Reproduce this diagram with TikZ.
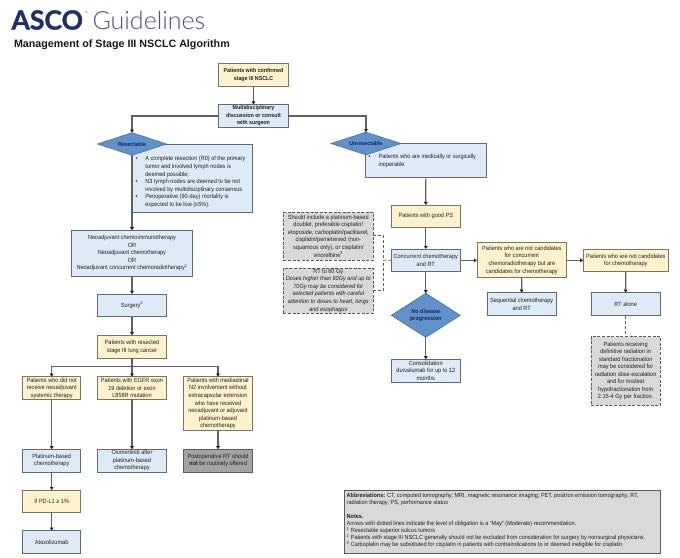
\documentclass[tikz,border=0pt]{standalone}
\usepackage{fontspec}
\setmainfont[FakeStretch=0.92]{Liberation Sans}
\newfontfamily\titlefont{Liberation Sans}
\newfontfamily\logofont[FakeBold=1.2]{Lato}
\newfontfamily\logoreg{Lato}
\newfontfamily\logolight{Lato Light}
\usetikzlibrary{arrows.meta,shapes.geometric}
\definecolor{yfill}{HTML}{FFF2CC}
\definecolor{yline}{HTML}{7A7560}
\definecolor{bfill}{HTML}{DEEAF6}
\definecolor{bline}{HTML}{5E6B78}
\definecolor{dfill}{HTML}{5F92CC}
\definecolor{dline}{HTML}{4A6E9C}
\definecolor{gfill}{HTML}{D9D9D9}
\definecolor{gline}{HTML}{5A5A5A}
\definecolor{dkfill}{HTML}{A3A3A3}
\definecolor{conn}{HTML}{606060}
\definecolor{navy}{HTML}{1E2F6B}
\definecolor{purp}{HTML}{5B4B7C}
\newcommand{\bx}[7]{%
  \pgfmathsetmacro\cxx{(#3+#5)/2}\pgfmathsetmacro\cyy{(#4+#6)/2}%
  \pgfmathsetmacro\ww{#5-#3}\pgfmathsetmacro\hh{#6-#4}%
  \node[#2,minimum width=\ww pt,minimum height=\hh pt] (#1) at (\cxx,\cyy) {#7};}
\newcommand{\bul}{\makebox[9.9pt][l]{•}}
\newcommand{\nob}{\hspace*{9.9pt}}
\tikzset{
  base/.style={draw,line width=0.9pt,inner sep=0pt,outer sep=0pt,align=center,text=black!88,font=\fontsize{6.05}{7.55}\selectfont},
  ybox/.style={base,fill=yfill,draw=yline},
  ybold/.style={ybox,font=\fontsize{5.75}{7.55}\selectfont\bfseries},
  bbox/.style={base,fill=bfill,draw=bline},
  bbold/.style={bbox,font=\fontsize{5.75}{7.55}\selectfont\bfseries},
  gbox/.style={base,fill=gfill,draw=gline,dash pattern=on 3pt off 1.6pt},
  dbox/.style={base,fill=dkfill,draw=gline},
  notebox/.style={base,fill=gfill,draw=gline},
  dia/.style={diamond,aspect=3,draw=dline,line width=0.6pt,fill=dfill,inner sep=0pt,outer sep=0pt,align=center,text=navy!80!black,font=\fontsize{5.75}{7.55}\selectfont\bfseries},
  arr/.style={draw=conn,line width=1.2pt,-{Triangle[length=3.2pt,width=3.8pt,color=black!85]}},
  dshd/.style={draw=conn,line width=0.8pt,dash pattern=on 3pt off 2pt},
  plain/.style={inner sep=0pt,outer sep=0pt,anchor=west,align=left},
  bodytxt/.style={plain,anchor=north west,text=black!88,font=\fontsize{6.05}{7.55}\selectfont},
}
\begin{document}
\begin{tikzpicture}[x=1pt,y=-1pt]
\useasboundingbox (0,0) rectangle (680,557);
\fill[white] (0,0) rectangle (680,557);
% header
\node[plain,text=navy,font=\fontsize{26.5}{28}\logofont\bfseries] (asco) at (11.5,20) {ASCO};
\node[plain,text=purp,font=\fontsize{3}{3}\logoreg] (reg) at (85,12.5) {®};
\node[plain,text=purp,font=\fontsize{25}{28}\logolight] (guide) at (92.5,20.5) {Guidelines};
\node[plain,text=black!90,font=\fontsize{10.7}{12}\titlefont\bfseries] (title) at (14,44.5) {Management of Stage III NSCLC Algorithm};
% left column
\bx{start}{ybold}{218.7}{63.4}{288.3}{86.2}{Patients with confirmed\\stage III NSCLC}
\bx{mdt}{bbold}{218.7}{104.5}{288.3}{127.4}{Multidisciplinary\\discussion or consult\\with surgeon}
\bx{resbox}{bbox}{132.3}{144}{252.7}{212}{}
\node[bodytxt] (restxt) at (135.5,156.6) {\bul A complete resection (R0) of the primary\\\nob tumor and involved lymph nodes is\\\nob deemed possible;\\\bul N3 lymph nodes are deemed to be not\\\nob involved by multidisciplinary consensus\\\bul Perioperative (90-day) mortality is\\\nob expected to be low (≤5\%).};
\node[dia,minimum width=69pt,minimum height=22.6pt] (res) at (132,144) {Resectable};
\bx{neo}{bbox}{71.7}{230.3}{192.3}{276}{Neoadjuvant chemoimmunotherapy\\OR\\Neoadjuvant chemotherapy\\OR\\Neoadjuvant concurrent chemoradiotherapy\textsuperscript{1}}
\bx{surg}{bbox}{97.3}{294}{166.7}{316.7}{Surgery\textsuperscript{2}}
\bx{resected}{ybox}{97.3}{335.3}{166.7}{358.3}{Patients with resected\\stage III lung cancer}
\coordinate (bus) at (132,366.7);
\bx{noneo}{ybox}{22.7}{376.7}{80.7}{399.3}{Patients who did not\\receive neoadjuvant\\systemic therapy}
\bx{egfr}{ybox}{97.3}{376.7}{166.7}{399.3}{Patients with EGFR exon\\19 deletion or exon\\L858R mutation}
\bx{ntwo}{ybox}{183.3}{376.7}{252.7}{430.3}{Patients with mediastinal\\N2 involvement without\\extracapsular extension\\who have received\\neoadjuvant or adjuvant\\platinum-based\\chemotherapy}
\bx{plat}{bbox}{22.7}{449.3}{80.7}{472}{Platinum-based\\chemotherapy}
\bx{osim}{bbox}{97.3}{449.3}{166.7}{472}{Osimertinib after\\platinum-based\\chemotherapy}
\bx{port}{dbox}{183.3}{449.3}{252.7}{472}{Postoperative RT should\\\textbf{not} be routinely offered}
\bx{pdl}{ybox}{22.7}{490}{80.7}{512.7}{If PD-L1 ≥ 1\%}
\bx{atezo}{bbox}{22.7}{530.7}{80.7}{553.3}{Atezolizumab}
% right column
\bx{unbox}{bbox}{365.7}{143.3}{486}{177.7}{}
\node[bodytxt] (untxt) at (368.7,154.6) {\bul Patients who are medically or surgically\\\nob inoperable};
\node[dia,minimum width=70pt,minimum height=22.6pt] (unres) at (366,143.5) {Unresectable};
\bx{good}{ybox}{391.3}{205}{460.3}{227.7}{Patients with good PS}
\bx{conc}{bbox}{391.3}{249}{460.3}{271.7}{Concurrent chemotherapy\\and RT}
\node[diamond,aspect=1.56,draw=dline,line width=0.6pt,fill=dfill,inner sep=0pt,outer sep=0pt,align=center,text=navy!80!black,font=\fontsize{5.9}{7.55}\selectfont\bfseries,minimum width=69pt,minimum height=44pt] (nodis) at (425.8,315.3) {No disease\\progression};
\bx{cons}{bbox}{391.3}{359.3}{460.3}{382}{Consolidation\\durvalumab for up to 12\\months}
\bx{nc}{ybox}{477}{242.7}{566.7}{277.7}{Patients who are not candidates\\for concurrent\\chemoradiotherapy but are\\candidates for chemotherapy}
\bx{nd}{ybox}{583.3}{249}{668.3}{271.7}{Patients who are not candidates\\for chemotherapy}
\bx{seq}{bbox}{487}{292.7}{556.3}{315.7}{Sequential chemotherapy\\and RT}
\bx{rtal}{bbox}{591}{292.7}{660.3}{315.7}{RT alone}
\bx{defin}{gbox}{591}{336.7}{660.3}{405.3}{Patients receiving\\definitive radiation in\\standard fractionation\\may be considered for\\radiation dose escalation\\and for modest\\hypofractionation from\\2.15-4 Gy per fraction.}
\bx{plbox}{gbox}{283.3}{212}{373.3}{260}{Should include a platinum-based\\doublet, preferable cisplatin/\\etoposide, carboplatin/paclitaxel,\\cisplatin/pemetrexed (non-\\squamous only), or cisplatin/\\vinorelbine\textsuperscript{3}}
\bx{rtbox}{gbox}{283.3}{268}{373.3}{313.3}{RT to 60 Gy\\\itshape Doses higher than 60Gy and up to\\\itshape 70Gy may be considered for\\\itshape selected patients with careful\\\itshape attention to doses to heart, lungs\\\itshape and esophagus}
\bx{notes}{notebox}{344}{490}{660.3}{553.3}{}
\node[plain,anchor=north west,text=black!88,font=\fontsize{5.97}{7.05}\selectfont] (notetxt) at (346.7,493.2) {\textbf{Abbreviations:} CT, computed tomography; MRI, magnetic resonance imaging; PET, positron emission tomography; RT,\\radiation therapy; PS, performance status\\[7.05pt]\textbf{Notes.}\\Arrows with dotted lines indicate the level of obligation is a ``May'' (Moderate) recommendation.\\\textsuperscript{1} Resectable superior sulcus tumors\\\textsuperscript{2} Patients with stage III NSCLC generally should not be excluded from consideration for surgery by nonsurgical physicians.\\\textsuperscript{3} Carboplatin may be substituted for cisplatin in patients with contraindications to or deemed ineligible for cisplatin};
% connectors
\draw[arr] (start.south) -- (mdt.north);
\draw[arr] (mdt.west) -| (res.north);
\draw[arr] (mdt.east) -| (unres.north);
\draw[arr] (res.south) -- (neo.north);
\draw[arr] (neo.south) -- (surg.north);
\draw[arr] (surg.south) -- (resected.north);
\draw[arr] (resected.south) -- (egfr.north);
\draw[arr] (bus) -| (noneo.north);
\draw[arr] (bus) -| (ntwo.north);
\draw[arr] (noneo.south) -- (plat.north);
\draw[arr] (egfr.south) -- (osim.north);
\draw[arr] (ntwo.south) -- (port.north);
\draw[arr] (plat.south) -- (pdl.north);
\draw[arr] (pdl.south) -- (atezo.north);
\draw[arr] (unbox.south) -- (good.north);
\draw[arr] (good.south) -- (conc.north);
\draw[arr] (conc.south) -- (nodis.north);
\draw[arr] (nodis.south) -- (cons.north);
\draw[arr] (conc.east) -- (conc.east -| nc.west);
\draw[arr] (nc.east |- nd.west) -- (nd.west);
\draw[arr] (nc.south) -- (seq.north);
\draw[arr] (nd.south) -- (rtal.north);
\draw[dshd] (rtal.south) -- (defin.north);
\coordinate (brk) at (383.5,260.3);
\draw[dshd] (conc.west) -- (brk);
\draw[dshd] (plbox.east |- 0,235.5) -| (brk);
\draw[dshd] (rtbox.east |- 0,290.7) -| (brk);
\end{tikzpicture}
\end{document}
